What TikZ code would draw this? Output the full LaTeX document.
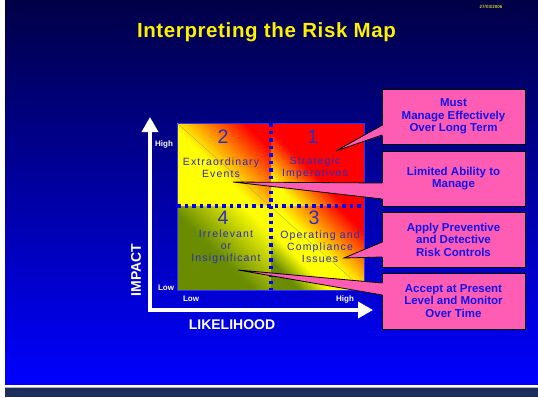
\documentclass[tikz,border=0pt]{standalone}
\usepackage{fontspec}
\setmainfont{Liberation Sans}
\newfontfamily\quadfont[LetterSpace=11]{Liberation Sans}
\newfontfamily\titlefont[LetterSpace=3]{Liberation Sans}
\usetikzlibrary{arrows.meta}
\definecolor{bgtop}{RGB}{0,0,70}
\definecolor{bgbot}{RGB}{0,0,255}
\definecolor{barcol}{RGB}{28,46,94}
\definecolor{qolive}{RGB}{105,140,0}
\definecolor{qtext}{RGB}{45,45,190}
\definecolor{boxpink}{RGB}{255,92,180}
\definecolor{boxtext}{RGB}{20,20,230}
\definecolor{datecol}{RGB}{200,200,40}
\pgfdeclareverticalshading{qonesh}{100bp}{color(0bp)=(yellow); color(25bp)=(yellow); color(45bp)=(red); color(100bp)=(red)}
\pgfdeclareverticalshading{qtwosh}{100bp}{color(0bp)=(yellow); color(45bp)=(yellow); color(75bp)=(red); color(100bp)=(red)}
\pgfdeclareverticalshading{qthreesh}{100bp}{color(0bp)=(qolive); color(26bp)=(qolive); color(38bp)=(yellow); color(50bp)=(yellow); color(75bp)=(red); color(100bp)=(red)}
\pgfdeclareverticalshading{qfoursh}{100bp}{color(0bp)=(qolive); color(45bp)=(qolive); color(75bp)=(yellow); color(100bp)=(yellow)}
\begin{document}
\begin{tikzpicture}[x=1pt,y=-1pt,
  pinkbox/.style={draw=black, line width=0.8pt, fill=boxpink, minimum width=143pt, inner sep=0pt,
    align=center, text=boxtext, font=\bfseries\fontsize{11.5}{12.6}\selectfont},
  tailfill/.style={fill=boxpink},
  tailline/.style={draw=black, line width=0.8pt, line join=miter},
  quadtxt/.style={align=center, text=qtext, font=\quadfont\fontsize{10.5}{11.8}\selectfont},
  digit/.style={text=qtext, font=\fontsize{19.5}{20}\selectfont},
  axlbl/.style={text=white, font=\bfseries\fontsize{8}{9}\selectfont},
  axtitle/.style={text=white, font=\bfseries\fontsize{14}{15}\selectfont},
  axisline/.style={draw=white, line width=3.5pt, line join=miter,
    {Triangle[width=16pt,length=15pt]}-{Triangle[width=16pt,length=15pt]}},
  dotline/.style={draw=bgbot, line width=3.5pt, dash pattern=on 3.5pt off 4pt}
]
\useasboundingbox (0,0) rectangle (538,397);
% background
\fill[white] (0,0) rectangle (538,397);
\shade[top color=bgtop, bottom color=bgbot] (5,0) rectangle (538,385);
\fill[white] (5,385) rectangle (538,386.5);
\fill[black!30] (5,386.5) rectangle (538,388);
\fill[barcol] (5,388) rectangle (538,397);

% date and title
\node[text=datecol, font=\bfseries\fontsize{4.5}{5}\selectfont] (date) at (491,7) {27/03/2006};
\node[anchor=base, text=yellow, font=\titlefont\bfseries\fontsize{20.5}{22}\selectfont] (title) at (266.5,37.5) {Interpreting the Risk Map};

% risk matrix
\coordinate (mtl) at (177,123);
\coordinate (mbr) at (364,290);
\coordinate (vtop) at (271,123);
\coordinate (vbot) at (271,290);
\coordinate (hleft) at (177,206);
\coordinate (hright) at (364,206);
\coordinate (mc) at (271,206);
\shade[shading=qtwosh, shading angle=-45] (mtl) rectangle (mc);
\shade[shading=qonesh, shading angle=-45] (vtop) rectangle (hright);
\shade[shading=qfoursh, shading angle=-45] (hleft) rectangle (vbot);
\shade[shading=qthreesh, shading angle=-45] (mc) rectangle (mbr);
\draw[bgbot!80!white, line width=1pt] (mtl) rectangle (mbr);
\draw[black!35!yellow!70!gray, line width=0.3pt] (mtl) -- (mbr);
\draw[dotline] (vtop) -- (vbot);
\draw[dotline] (hleft) -- (hright);

% quadrant labels
\node[digit] (d2) at (223,137) {2};
\node[digit] (d1) at (313,137) {1};
\node[digit] (d4) at (223,218) {4};
\node[digit] (d3) at (314,218) {3};
\node[quadtxt] (q2) at (221,167.5) {Extraordinary\\Events};
\node[quadtxt] (q1) at (315,167.5) {Strategic\\Imperatives};
\node[quadtxt] (q4) at (226,247) {Irrelevant\\or\\Insignificant};
\node[quadtxt] (q3) at (320,247) {Operating and\\Compliance\\Issues};

% axes
\coordinate (ytip) at (150,117);
\coordinate (origin) at (150,310);
\coordinate (xtip) at (373,310);
\draw[axisline] (ytip) -- (origin) -- (xtip);
\node[axlbl] (yhigh) at (164,144) {High};
\node[axlbl] (ylow) at (166,288) {Low};
\node[axlbl] (xlow) at (191,299) {Low};
\node[axlbl] (xhigh) at (345,299) {High};
\node[axtitle, rotate=90] (impact) at (136,270) {IMPACT};
\node[axtitle] (likelihood) at (232,325) {LIKELIHOOD};

% callout boxes
\node[pinkbox, minimum height=55pt] (b1) at (453.5,116.5) {Must\\Manage Effectively\\Over Long Term};
\node[pinkbox, minimum height=55pt] (b2) at (453.5,178.5) {Limited Ability to\\Manage};
\node[pinkbox, minimum height=55pt] (b3) at (453.5,239.5) {Apply Preventive\\and Detective\\Risk Controls};
\node[pinkbox, minimum height=56pt] (b4) at (453.5,301) {Accept at Present\\Level and Monitor\\Over Time};

% callout tails
\coordinate (t1) at (336,151);
\coordinate (t1a) at (382,125);
\coordinate (t1b) at (382,135);
\coordinate (t2) at (233,182);
\coordinate (t2a) at (382,183);
\coordinate (t2b) at (382,199);
\coordinate (t3) at (344,258);
\coordinate (t3a) at (382,242);
\coordinate (t3b) at (382,257);
\coordinate (t4) at (238,270);
\coordinate (t4a) at (382,283);
\coordinate (t4b) at (382,295);
\foreach \t in {1,2,3,4}{
  \fill[tailfill] ([xshift=1.5pt]t\t a) -- (t\t) -- ([xshift=1.5pt]t\t b) -- cycle;
  \draw[tailline] (t\t a) -- (t\t) -- (t\t b);
}
\end{tikzpicture}
\end{document}
